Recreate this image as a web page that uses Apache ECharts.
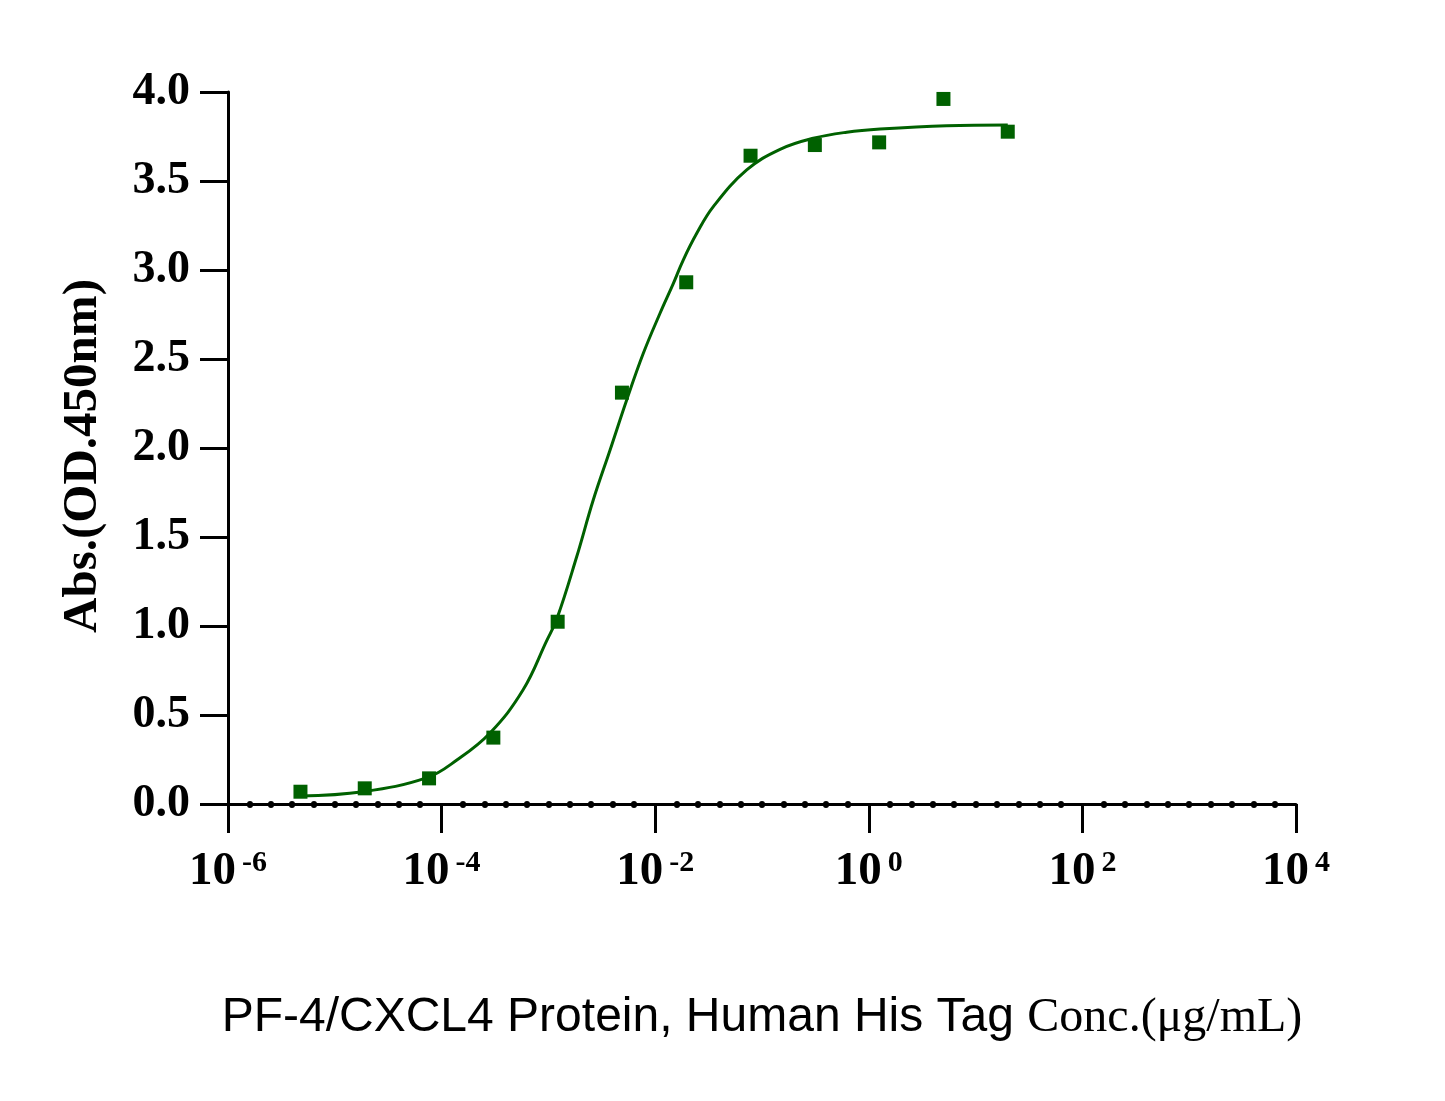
<!DOCTYPE html>
<html>
<head>
<meta charset="utf-8">
<title>PF-4/CXCL4 ELISA</title>
<script src="https://cdn.jsdelivr.net/npm/echarts@6/dist/echarts.min.js"></script>
<style>
  html, body { margin: 0; padding: 0; background: #fff; }
  #chart { width: 1445px; height: 1101px; }
</style>
</head>
<body>
<div id="chart"></div>
<script>
// measured points (conc in ug/mL, OD450)
const pointConc = [4.77e-6, 1.907e-5, 7.63e-5, 3.052e-4, 1.221e-3, 4.883e-3, 0.01953, 0.078125, 0.3125, 1.25, 5, 20]
const pointAbs = [0.069, 0.088, 0.144, 0.373, 1.024, 2.311, 2.931, 3.642, 3.702, 3.717, 3.961, 3.777]

// fitted curve
const curveConc = [4.72e-6, 1.84e-5, 7.3e-5, 1.39e-4, 2.84e-4, 5.78e-4, 9.6e-4, 1.2e-3, 1.84e-3, 2.63e-3,
  3.78e-3, 5.41e-3, 7.74e-3, 0.0111, 0.0148, 0.0183, 0.0245, 0.035, 0.0719, 0.1476, 0.302, 0.621, 1.274, 5.36, 20]
const curveAbs = [0.045, 0.069, 0.148, 0.247, 0.399, 0.640, 0.915, 1.040, 1.389, 1.708,
  1.989, 2.270, 2.532, 2.757, 2.925, 3.056, 3.206, 3.356, 3.562, 3.678, 3.740, 3.774, 3.792, 3.811, 3.815]

// axis settings
const xExpMin = -6
const xExpMax = 4
const yTicks = [0, 4, 0.5]

const green = '#006100'
const serif = 'Liberation Serif'

const chart = echarts.init(document.getElementById('chart'))

const optionData = {
  animation: false,
  grid: {
    left: 228,
    right: 149,
    top: 92,
    bottom: 297
  },
  xAxis: {
    type: 'value',
    min: xExpMin,
    max: xExpMax,
    interval: 2,
    name: '{a|PF-4/CXCL4 Protein, Human His Tag }{c|Conc.(μg/mL)}',
    nameLocation: 'middle',
    nameGap: 190,
    nameTextStyle: {
      rich: {
        a: { fontFamily: 'Liberation Sans', fontSize: 48, color: '#000' },
        c: { fontFamily: serif, fontSize: 48, color: '#000' }
      }
    },
    axisLine: { lineStyle: { color: '#000', width: 3 } },
    axisTick: { length: 29, lineStyle: { color: '#000', width: 3 } },
    minorTick: {
      show: true,
      splitNumber: 10,
      length: 1,
      lineStyle: { color: '#000', width: 6, cap: 'round' }
    },
    splitLine: { show: false },
    minorSplitLine: { show: false },
    axisLabel: {
      margin: 44,
      formatter: function (v) {
        return '{b|10}{s|' + v + '}'
      },
      rich: {
        b: { fontFamily: serif, fontWeight: 'bold', fontSize: 47, color: '#000', lineHeight: 47 },
        s: { fontFamily: serif, fontWeight: 'bold', fontSize: 30, color: '#000', lineHeight: 30, verticalAlign: 'top', padding: [0, 0, 0, 6] }
      }
    }
  },
  yAxis: {
    type: 'value',
    min: yTicks[0],
    max: yTicks[1],
    interval: yTicks[2],
    name: 'Abs.(OD.450nm)',
    nameLocation: 'middle',
    nameGap: 120,
    nameTextStyle: {
      fontFamily: serif, fontWeight: 'bold', fontSize: 49, color: '#000',
      padding: [0, 16, 0, 0]
    },
    axisLine: { show: true, onZero: false, lineStyle: { color: '#000', width: 3 } },
    axisTick: { show: true, length: 28, lineStyle: { color: '#000', width: 3 } },
    splitLine: { show: false },
    axisLabel: {
      margin: 38,
      fontFamily: serif,
      fontWeight: 'bold',
      fontSize: 46,
      color: '#000',
      formatter: function (v) { return v.toFixed(1) }
    }
  },
  series: [
    {
      type: 'line',
      data: curveConc.map((c, i) => [Math.log10(c), curveAbs[i]]),
      showSymbol: false,
      smooth: 0.4,
      lineStyle: { color: green, width: 3 },
      z: 2
    },
    {
      type: 'scatter',
      data: pointConc.map((c, i) => [Math.log10(c), pointAbs[i]]),
      symbol: 'rect',
      symbolSize: 14,
      itemStyle: { color: green, opacity: 1 },
      z: 3
    }
  ]
}
chart.setOption(optionData)
</script>
</body>
</html>
